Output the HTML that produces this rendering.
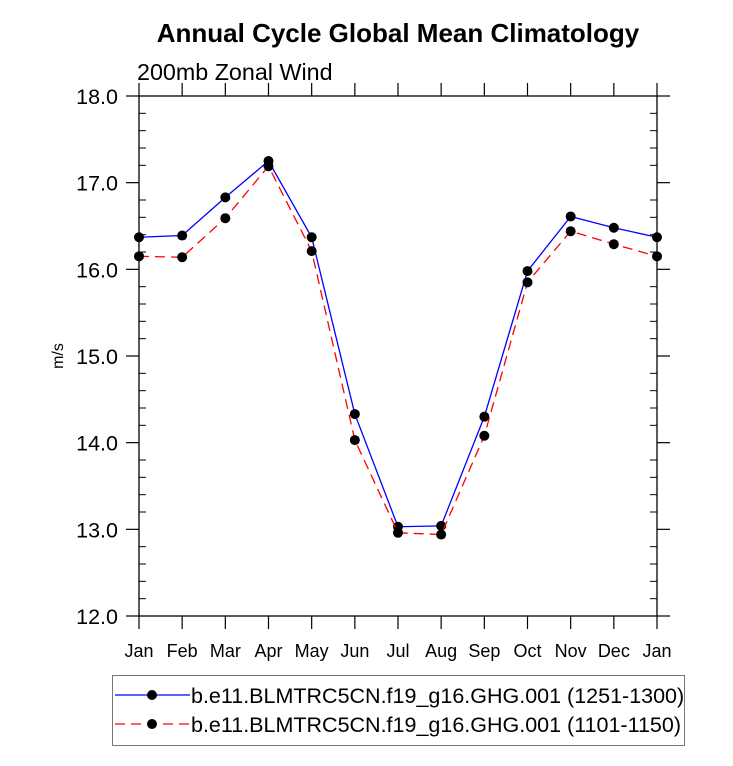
<!DOCTYPE html>
<html><head><meta charset="utf-8"><style>
body{margin:0;background:#fff}
svg{display:block;font-family:"Liberation Sans",sans-serif}
</style></head><body>
<svg id="c" width="733" height="766" xmlns="http://www.w3.org/2000/svg">
<text x="398" y="42" text-anchor="middle" font-size="26" font-weight="bold">Annual Cycle Global Mean Climatology</text>
<text x="137" y="80" font-size="23.3">200mb Zonal Wind</text>
<text transform="translate(63,356) rotate(-90)" text-anchor="middle" font-size="16">m/s</text>
<g id="axes"></g>
<g id="series"></g>
<g>
<rect x="112.5" y="675.5" width="572" height="70" fill="none" stroke="#777" stroke-width="1"/>
<g>
<line x1="115" y1="695" x2="190" y2="695" stroke="#0000ff" stroke-width="1.3"/>
<circle cx="152" cy="695" r="5" fill="#000"/>
<text x="191" y="703" font-size="21.5">b.e11.BLMTRC5CN.f19_g16.GHG.001 (1251-1300)</text>
</g>
<g>
<line x1="115" y1="724" x2="190" y2="724" stroke="#ff0000" stroke-width="1.3" stroke-dasharray="10,6"/>
<circle cx="152" cy="724" r="5" fill="#000"/>
<text x="191" y="732" font-size="21.5">b.e11.BLMTRC5CN.f19_g16.GHG.001 (1101-1150)</text>
</g>
</g>
</svg>
<script>
const months=["Jan","Feb","Mar","Apr","May","Jun","Jul","Aug","Sep","Oct","Nov","Dec","Jan"];
const seriesA=[16.37,16.39,16.83,17.25,16.37,14.33,13.03,13.04,14.30,15.98,16.61,16.48,16.37];
const seriesB=[16.15,16.14,16.59,17.19,16.21,14.03,12.96,12.94,14.08,15.85,16.44,16.29,16.15];
const yTicks=["12.0","13.0","14.0","15.0","16.0","17.0","18.0"];
const X0=139,X1=657,Y0=616,Y1=96,YMIN=12,YMAX=18;
const xs=i=>X0+(X1-X0)*i/(months.length-1);
const ys=v=>Y0-(v-YMIN)/(YMAX-YMIN)*(Y0-Y1);
const NS="http://www.w3.org/2000/svg";
function mk(t,a,p){const e=document.createElementNS(NS,t);for(const k in a)e.setAttribute(k,a[k]);p.appendChild(e);return e;}
const ax=document.getElementById('axes');
const frame=mk('rect',{x:X0,y:Y1,width:X1-X0,height:Y0-Y1,fill:'none',stroke:'#000','stroke-width':1.3},ax);


months.forEach((m,i)=>{const x=xs(i);
 mk('line',{x1:x,y1:Y0,x2:x,y2:Y0+13,stroke:'#000','stroke-width':1.2},ax);
 mk('line',{x1:x,y1:Y1,x2:x,y2:Y1-13,stroke:'#000','stroke-width':1.2},ax);
 const t=mk('text',{x:x,y:Y0+41,'text-anchor':'middle','font-size':18},ax);t.textContent=m;
 
 
});
yTicks.forEach((lab,i)=>{const v=parseFloat(lab),y=ys(v);
 mk('line',{x1:X0-13,y1:y,x2:X0,y2:y,stroke:'#000','stroke-width':1.2},ax);
 mk('line',{x1:X1,y1:y,x2:X1+13,y2:y,stroke:'#000','stroke-width':1.2},ax);
 const t=mk('text',{x:X0-21,y:y+8,'text-anchor':'end','font-size':21.5},ax);t.textContent=lab;
 
 
 if(i<yTicks.length-1)for(let k=1;k<5;k++){const yy=ys(v+k*0.2);
  mk('line',{x1:X0,y1:yy,x2:X0+7,y2:yy,stroke:'#000','stroke-width':1},ax);
  mk('line',{x1:X1-7,y1:yy,x2:X1,y2:yy,stroke:'#000','stroke-width':1},ax);}
});
const sg=document.getElementById('series');
function draw(vals,color,dash,name){
 const g=mk('g',{},sg);
 
 
 const pts=vals.map((v,i)=>xs(i)+','+ys(v)).join(' ');
 const a={points:pts,fill:'none',stroke:color,'stroke-width':1.3};if(dash)a['stroke-dasharray']=dash;
 mk('polyline',a,g);
 vals.forEach((v,i)=>{const c=mk('circle',{cx:xs(i),cy:ys(v),r:5,fill:'#000'},g);
  
  });
}
draw(seriesA,'#0000ff',null,'series-1251-1300');
draw(seriesB,'#ff0000','10,6','series-1101-1150');
</script>
</body></html>
